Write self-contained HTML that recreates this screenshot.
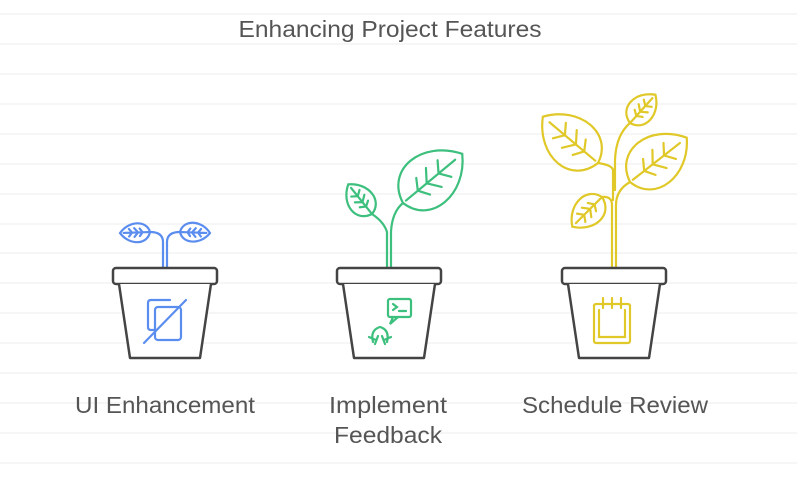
<!DOCTYPE html>
<html><head><meta charset="utf-8"><style>
html,body{margin:0;padding:0;background:#fff;}
svg{display:block;}
text{font-family:"Liberation Sans",sans-serif;fill:#555;font-size:23px;}
</style></head><body>
<svg width="797" height="481" viewBox="0 0 797 481" xmlns="http://www.w3.org/2000/svg">
<defs>
<g id="leaf">
<path d="M0 0 C10 -48 70 -48 100 0 C70 45 10 45 0 0 Z M5 0 L88 0 M40 0 L52 -16 M40 0 L52 16 M60 0 L70 -14 M60 0 L70 14 M25 0 L34 -14 M25 0 L34 14" fill="none" vector-effect="non-scaling-stroke"/>
</g>
</defs>
<g stroke="#f4f4f4" stroke-width="1.5">
<line x1="0" y1="14" x2="797" y2="14"/><line x1="0" y1="44" x2="797" y2="44"/><line x1="0" y1="74" x2="797" y2="74"/><line x1="0" y1="104" x2="797" y2="104"/><line x1="0" y1="134" x2="797" y2="134"/><line x1="0" y1="164" x2="797" y2="164"/><line x1="0" y1="194" x2="797" y2="194"/><line x1="0" y1="224" x2="797" y2="224"/><line x1="0" y1="253" x2="797" y2="253"/><line x1="0" y1="283" x2="797" y2="283"/><line x1="0" y1="313" x2="797" y2="313"/><line x1="0" y1="343" x2="797" y2="343"/><line x1="0" y1="373" x2="797" y2="373"/><line x1="0" y1="403" x2="797" y2="403"/><line x1="0" y1="433" x2="797" y2="433"/><line x1="0" y1="463" x2="797" y2="463"/>
</g>
<text x="390" y="37" text-anchor="middle" textLength="303" lengthAdjust="spacingAndGlyphs">Enhancing Project Features</text>

<g stroke="#5b8def" stroke-width="2.2" fill="none" stroke-linecap="round">
<path d="M163 268 L163 242 Q163 232 150 232 M167 268 L167 242 Q167 232 180 232"/>
<g transform="translate(150,232) rotate(178) scale(0.3,0.27)"><use href="#leaf"/></g>
<g transform="translate(180,232) rotate(2) scale(0.3,0.27)"><use href="#leaf"/></g>
</g>

<g stroke="#3dbf7d" stroke-width="2.2" fill="none" stroke-linecap="round">
<path d="M387 268 L387 232 Q384 222 372 214 M391 268 L391 232 Q392 212 403 203"/>
<g transform="translate(372,214) rotate(-128.7) scale(0.38)"><use href="#leaf"/></g>
<g transform="translate(403,203) rotate(-39.7) scale(0.77)"><use href="#leaf"/></g>
</g>

<g stroke="#e0c828" stroke-width="2.2" fill="none" stroke-linecap="round">
<path d="M612 268 L612 205 Q612 196 602 197 M616 268 L616 205 Q616 190 630 182 M613 200 L613 170 Q612 165 598 163 M615 190 L615 160 Q616 135 630 123"/>
<g transform="translate(602,197) rotate(135) scale(0.42)"><use href="#leaf"/></g>
<g transform="translate(598,163) rotate(-140) scale(0.72)"><use href="#leaf"/></g>
<g transform="translate(630,123) rotate(-48) scale(0.38)"><use href="#leaf"/></g>
<g transform="translate(630,182) rotate(-38) scale(0.72)"><use href="#leaf"/></g>
</g>

<g stroke="#444" stroke-width="2.5" fill="#fff" stroke-linejoin="round">
<rect x="113" y="268" width="104" height="16" rx="3"/>
<path d="M119 284 L130 358 L200 358 L211 284"/>
<rect x="337" y="268" width="104" height="16" rx="3"/>
<path d="M343 284 L354 358 L424 358 L435 284"/>
<rect x="562" y="268" width="104" height="16" rx="3"/>
<path d="M568 284 L579 358 L649 358 L660 284"/>
</g>
<g stroke="#5b8def" stroke-width="2.2" fill="none" stroke-linecap="round">
<path d="M170 300 L151 300 Q148 300 148 303 L148 327 Q148 330 151 330 L155 330"/>
<rect x="155" y="307" width="26" height="33" rx="3"/>
<line x1="144" y1="343" x2="186" y2="300"/>
</g>
<g stroke="#3dbf7d" stroke-width="2.2" fill="none" stroke-linecap="round">
<rect x="388" y="299" width="23" height="18" rx="2"/>
<path d="M393 317 L390 324 L398 317 M393 304 L397 307 L393 310 M399 311 L406 311"/>
<path d="M373 342 Q370 330 380 327 Q390 330 387 342 M369 337 L376 340 M391 337 L384 340 M375 344 L378 336 M385 344 L382 336"/>
</g>
<g stroke="#e0c828" stroke-width="2.2" fill="none" stroke-linecap="round">
<rect x="594" y="304" width="36" height="39" rx="2"/>
<path d="M599 310 L599 337 L625 337 L625 310 M603 298 L603 308 M612 298 L612 308 M621 298 L621 308"/>
</g>

<text x="165" y="413" text-anchor="middle" textLength="180" lengthAdjust="spacingAndGlyphs">UI Enhancement</text>
<text x="388" y="413" text-anchor="middle" textLength="118" lengthAdjust="spacingAndGlyphs">Implement</text>
<text x="388" y="443" text-anchor="middle" textLength="108" lengthAdjust="spacingAndGlyphs">Feedback</text>
<text x="615" y="413" text-anchor="middle" textLength="186" lengthAdjust="spacingAndGlyphs">Schedule Review</text>
</svg>
</body></html>
